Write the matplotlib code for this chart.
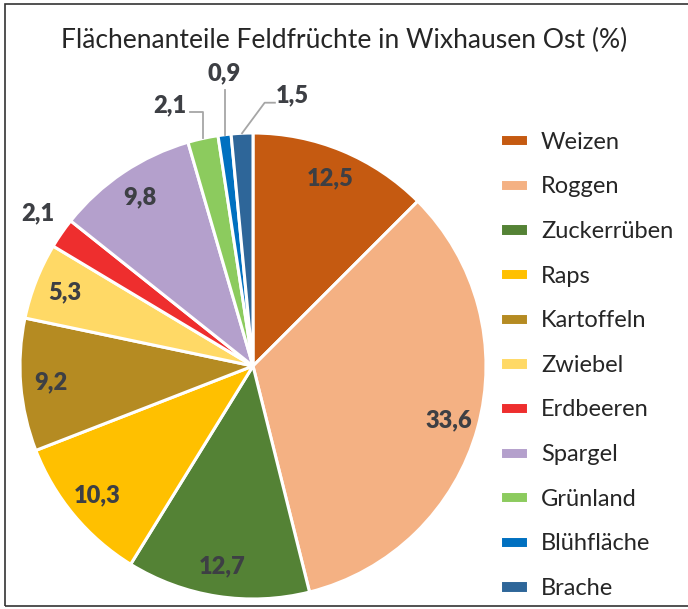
import matplotlib
matplotlib.use("Agg")
import matplotlib.pyplot as plt
from matplotlib.patches import Rectangle
import numpy as np

categories = ["Weizen", "Roggen", "Zuckerrüben", "Raps", "Kartoffeln", "Zwiebel",
              "Erdbeeren", "Spargel", "Grünland", "Blühfläche", "Brache"]
values = [12.5, 33.6, 12.7, 10.3, 9.2, 5.3, 2.1, 9.8, 2.1, 0.9, 1.5]
value_labels = ["12,5", "33,6", "12,7", "10,3", "9,2", "5,3", "2,1", "9,8", "2,1", "0,9", "1,5"]
colors = ["#C55A11", "#F4B183", "#548235", "#FFC000", "#B58B22", "#FFD966",
          "#EE2E2E", "#B4A0CC", "#8CCB5E", "#0070C0", "#2E6699"]
title = "Flächenanteile Feldfrüchte in Wixhausen Ost (%)"

plt.rcParams['font.family'] = ['Lato', 'DejaVu Sans']

W, H = 688, 609
fig = plt.figure(figsize=(W/100, H/100), dpi=100)

cx, cy, R = 253, 243, 233
ax = fig.add_axes([(cx-R)/W, (cy-R)/H, 2*R/W, 2*R/H])
wedges, _ = ax.pie(values, startangle=90, counterclock=False, colors=colors,
                   wedgeprops=dict(edgecolor="white", linewidth=2.2), radius=1)
ax.set_xlim(-1, 1)
ax.set_ylim(-1, 1)
ax.set_aspect("equal")
ax.axis("off")

txt_kw = dict(fontsize=17, fontweight="heavy", color="#3d3f44", ha="center", va="center")
line_col = "#A6A6A6"

for i, w in enumerate(wedges):
    mid = np.deg2rad((w.theta1 + w.theta2) / 2)
    px, py = np.cos(mid), np.sin(mid)
    if i == 6:
        ax.text(-0.923, 0.657, value_labels[i], **txt_kw)
    elif i == 8:
        ax.text(-0.356, 1.12, value_labels[i], **txt_kw)
        ax.plot([px, px, -0.27], [py, 1.091, 1.091], color=line_col, lw=1.3, clip_on=False)
    elif i == 9:
        ax.text(-0.124, 1.258, value_labels[i], **txt_kw)
        ax.plot([px, px], [py, 1.185], color=line_col, lw=1.3, clip_on=False)
    elif i == 10:
        ax.text(0.167, 1.163, value_labels[i], **txt_kw)
        ax.plot([px, 0.05, 0.094], [py, 1.13, 1.13], color=line_col, lw=1.3, clip_on=False)
    else:
        d = 0.87
        ax.text(d*px, d*py, value_labels[i], **txt_kw)

fig.text(344/W, 1 - 40/H, title, fontsize=19.1, color="#262626", ha="center", va="center")

leg = fig.legend(wedges, categories, loc="upper left", bbox_to_anchor=(488/W, 1 - 120/H),
                 frameon=False, fontsize=17, handlelength=1.2, handleheight=0.42,
                 handletextpad=0.55, labelspacing=1.0, borderpad=0)
for t in leg.get_texts():
    t.set_color("#262626")

fig.patches.append(Rectangle((5/W, 3/H), 1.0, 1 - 7/H, transform=fig.transFigure,
                             fill=False, edgecolor="#333333", lw=1.2))

fig.savefig("out.png", dpi=100)
